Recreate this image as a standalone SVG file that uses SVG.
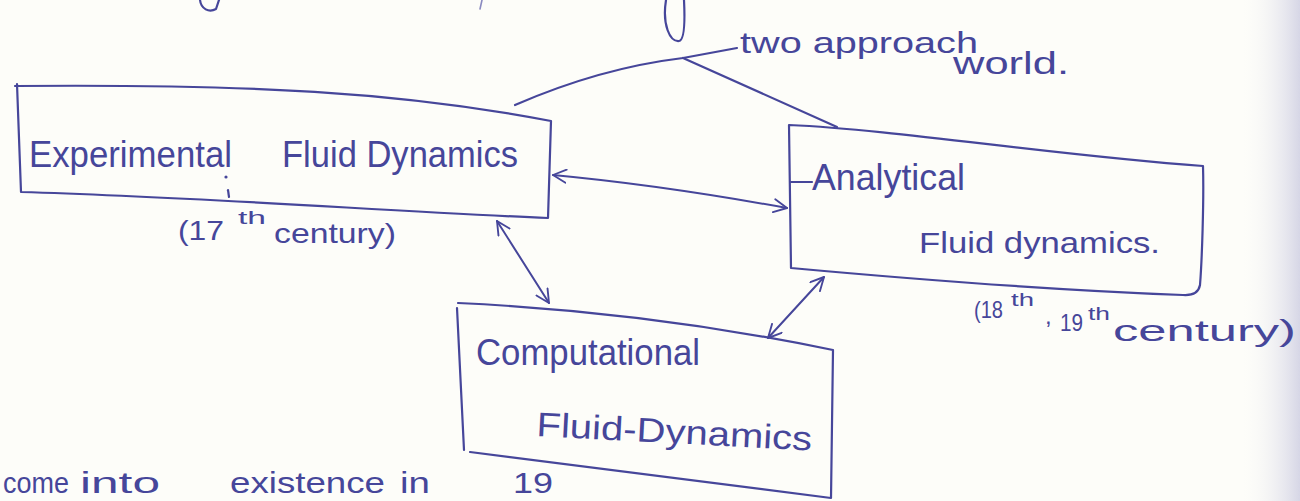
<svg xmlns="http://www.w3.org/2000/svg" width="1300" height="501" viewBox="0 0 1300 501">
  <style>
    .ink { fill: none; stroke: #46469a; stroke-width: 2.2; stroke-linecap: round; stroke-linejoin: round; }
    .faint { fill: none; stroke: #8a8ac0; stroke-width: 1.6; stroke-linecap: round; }
    .txt { fill: #46469a; font-family: "Liberation Sans", "DejaVu Sans", sans-serif; }
    .arrow { fill: none; stroke: #46469a; stroke-width: 2; stroke-linecap: round; marker-start: url(#ah); marker-end: url(#ah); }
  </style>
  <defs>
    <marker id="ah" viewBox="0 0 16 16" refX="15" refY="8" markerWidth="15" markerHeight="15" markerUnits="userSpaceOnUse" orient="auto-start-reverse">
      <path d="M1,1 L15,8 L1,15" fill="none" stroke="#46469a" stroke-width="2" stroke-linecap="round" stroke-linejoin="round"/>
    </marker>
    <linearGradient id="edge" x1="0" y1="0" x2="1" y2="0">
      <stop offset="0" stop-color="#fdfdf9" stop-opacity="0"/>
      <stop offset="1" stop-color="#d6d6e6"/>
    </linearGradient>
  </defs>

  <rect x="0" y="0" width="1300" height="501" fill="#fdfdf9"/>
  <rect x="1240" y="0" width="60" height="501" fill="url(#edge)"/>

  <!-- fragments of the previous line -->
  <g id="fragments">
    <path class="ink" d="M200,0 C201,9 209,13 216,9 L219,0"/>
    <path class="faint" d="M482,0 L480,9"/>
    <path class="ink" d="M666,0 C662,25 670,42 679,41 C685,40 685,20 684,0"/>
  </g>

  <!-- annotation -->
  <g id="note-two-approach">
    <text class="txt" x="740" y="53" font-size="30" textLength="238" lengthAdjust="spacingAndGlyphs">two approach</text>
    <text class="txt" x="953" y="74" font-size="32" textLength="116" lengthAdjust="spacingAndGlyphs">world.</text>
  </g>

  <!-- Experimental Fluid Dynamics -->
  <g id="node-experimental">
    <path class="ink" d="M15,86 C250,84 400,92 551,121 L548,218 C400,212 200,197 21,192 L17,84"/>
    <text class="txt" x="29" y="167" font-size="36" textLength="203" lengthAdjust="spacingAndGlyphs">Experimental</text>
    <text class="txt" x="282" y="167" font-size="36" textLength="236" lengthAdjust="spacingAndGlyphs">Fluid Dynamics</text>
    <circle cx="226" cy="177" r="1.6" fill="#46469a"/>
    <path class="ink" d="M228,190 L229,197"/>
    <text class="txt" x="178" y="240" font-size="28" textLength="46" lengthAdjust="spacingAndGlyphs">(17</text>
    <text class="txt" x="238" y="224" font-size="18" textLength="28" lengthAdjust="spacingAndGlyphs">th</text>
    <text class="txt" x="274" y="243" font-size="28" textLength="122" lengthAdjust="spacingAndGlyphs">century)</text>
  </g>

  <!-- Analytical Fluid dynamics -->
  <g id="node-analytical">
    <path class="ink" d="M789,125 C900,130 1050,155 1203,166 C1204,200 1202,260 1200,285 Q1198,296 1183,295 C1050,290 900,278 791,268 L789,125"/>
    <path class="ink" d="M791,182 L812,182"/>
    <text class="txt" x="812" y="190" font-size="36" textLength="153" lengthAdjust="spacingAndGlyphs">Analytical</text>
    <text class="txt" x="919" y="253" font-size="30" textLength="241" lengthAdjust="spacingAndGlyphs">Fluid dynamics.</text>
    <text class="txt" x="974" y="318" font-size="24" textLength="29" lengthAdjust="spacingAndGlyphs">(18</text>
    <text class="txt" x="1011" y="306" font-size="18" textLength="23" lengthAdjust="spacingAndGlyphs">th</text>
    <text class="txt" x="1045" y="324" font-size="24">,</text>
    <text class="txt" x="1060" y="331" font-size="24" textLength="23" lengthAdjust="spacingAndGlyphs">19</text>
    <text class="txt" x="1088" y="320" font-size="18" textLength="22" lengthAdjust="spacingAndGlyphs">th</text>
    <text class="txt" x="1113" y="341" font-size="30" textLength="183" lengthAdjust="spacingAndGlyphs">century)</text>
  </g>

  <!-- Computational Fluid-Dynamics -->
  <g id="node-computational">
    <path class="ink" d="M458,303 Q650,312 833,350 L831,498 L470,452 M457,308 L464,450"/>
    <text class="txt" x="476" y="365" font-size="36" textLength="224" lengthAdjust="spacingAndGlyphs">Computational</text>
    <text class="txt" x="536" y="436" font-size="34" textLength="276" lengthAdjust="spacingAndGlyphs" transform="rotate(3 536 436)">Fluid-Dynamics</text>
  </g>

  <!-- connectors -->
  <g id="connectors">
    <path class="ink" d="M515,105 Q600,68 683,58 L737,48"/>
    <path class="ink" d="M683,58 L837,127"/>
    <path class="arrow" d="M553,175 Q660,185 787,208"/>
    <path class="arrow" d="M497,221 L549,303"/>
    <path class="arrow" d="M768,338 L824,277"/>
  </g>

  <!-- bottom line of the page -->
  <g id="bottom-text">
    <text class="txt" x="3" y="493" font-size="30" textLength="66" lengthAdjust="spacingAndGlyphs">come</text>
    <text class="txt" x="80" y="493" font-size="30" textLength="80" lengthAdjust="spacingAndGlyphs">into</text>
    <text class="txt" x="230" y="493" font-size="30" textLength="155" lengthAdjust="spacingAndGlyphs">existence</text>
    <text class="txt" x="400" y="493" font-size="30" textLength="30" lengthAdjust="spacingAndGlyphs">in</text>
    <text class="txt" x="513" y="493" font-size="30" textLength="40" lengthAdjust="spacingAndGlyphs">19</text>
  </g>
</svg>
